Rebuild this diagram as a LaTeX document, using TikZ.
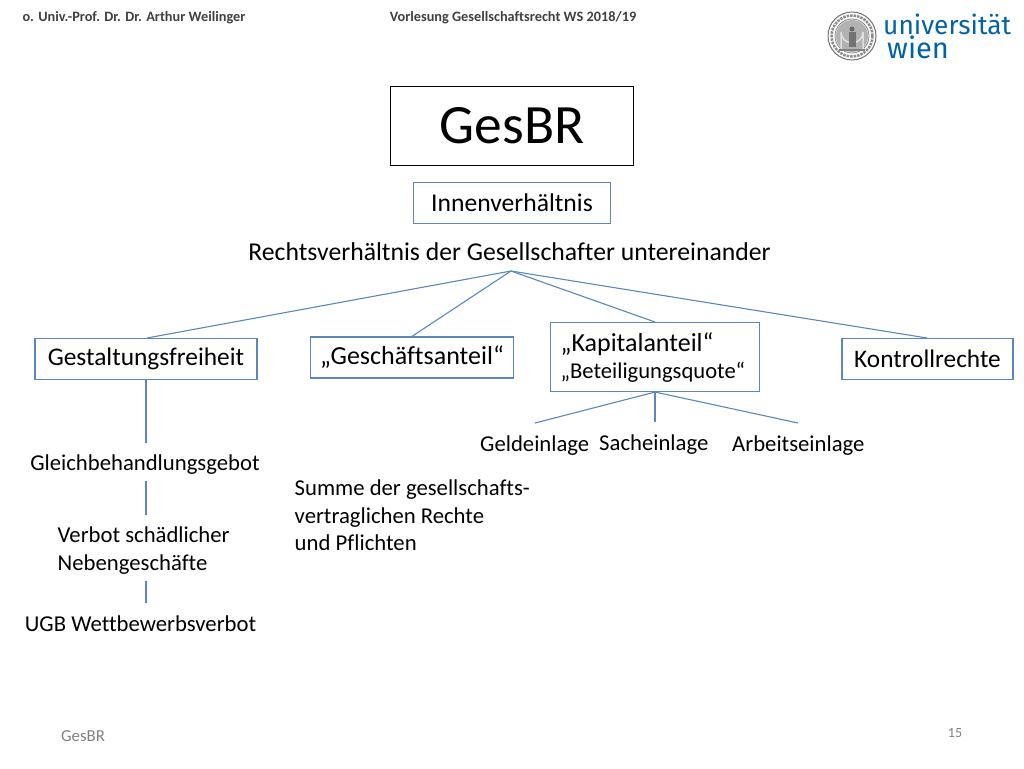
\documentclass[tikz,border=0pt]{standalone}
\usepackage{fontspec}
\setmainfont{Carlito}[Ligatures=NoCommon]
\newfontfamily\logofont{Fira Sans}
\definecolor{linkblue}{RGB}{90,135,190}
\definecolor{wienblue}{RGB}{0,99,166}
\tikzset{
    plain/.style={inner sep=0pt, align=left, font=\fontsize{#1}{#1}\selectfont},
    plain/.default=22.7,
    bluebox/.style={draw=linkblue, line width=1.1pt, inner sep=0pt},
    linkline/.style={draw=linkblue, line width=1.1pt},
}
\begin{document}
\begin{tikzpicture}[x=1pt,y=-1pt]
    \useasboundingbox (0,0) rectangle (1024,768);
    % header
    \node[inner sep=0pt,font=\fontsize{14.3}{15}\selectfont\bfseries,text=black!75] (author) at (134,18) {o. Univ.-Prof. Dr. Dr. Arthur Weilinger};
    \node[inner sep=0pt,font=\fontsize{14.3}{15}\selectfont\bfseries,text=black!75] (lecture) at (513,18) {Vorlesung Gesellschaftsrecht WS 2018/19};
    % logo
    \draw[black!55, line width=1pt] (852,36) circle (24);
    \draw[black!45, line width=2.5pt, densely dotted] (852,36) circle (20.5);
    \draw[black!50, line width=.8pt] (852,36) circle (17);
    \fill[black!30] (852,36) circle (16);
    \draw[black!12, line width=1.5pt] (841,50) -- (841,32) arc (180:0:11) -- (863,50);
    \fill[black!60] (852,29) circle (2.5);
    \fill[black!55] (848.5,32) rectangle (855.5,47);
    \fill[black!50] (839,49) rectangle (865,51);
    \node[anchor=north west,inner sep=0pt,align=left,text=wienblue,font=\logofont\fontsize{26.3}{20}\selectfont] (logo) at (883,14) {universität\\\hspace*{4pt}\fontsize{29}{20}\selectfont wien};
    % title boxes
    \node[draw=black, line width=1pt, minimum width=243pt, minimum height=79pt, inner sep=0pt, font=\fontsize{55.5}{56}\selectfont] (title) at (512,126) {GesBR};
    \node[bluebox, minimum width=197pt, minimum height=41pt, font=\fontsize{25.6}{26}\selectfont] (innen) at (512,203) {Innenverhältnis};
    \node[plain=25.7] (recht) at (509.5,252) {Rechtsverhältnis der Gesellschafter untereinander};
    \coordinate (hub) at (511,271);
    % second row
    \node[bluebox, minimum width=222pt, minimum height=41pt, font=\fontsize{25.4}{26}\selectfont] (gestalt) at (146,359) {Gestaltungsfreiheit};
    \node[bluebox, minimum width=203pt, minimum height=41pt, font=\fontsize{26}{26}\selectfont] (anteil) at (412,357.5) {„Geschäftsanteil“};
    \node[bluebox, minimum width=209pt, minimum height=69pt] (kapital) at (655,357) {};
    \node[plain=26, anchor=west] (kapname) at (560.5,344) {„Kapitalanteil“};
    \node[plain=22.6, anchor=west] (kapquote) at (560.5,372) {„Beteiligungsquote“};
    \node[bluebox, minimum width=171pt, minimum height=41pt, font=\fontsize{25.3}{26}\selectfont] (kontroll) at (927.5,359) {Kontrollrechte};
    \draw[linkline] (hub) -- (147,338);
    \draw[linkline] (hub) -- (411,337);
    \draw[linkline] (hub) -- (655,322);
    \draw[linkline] (hub) -- (927,338);
    % einlagen
    \node[plain, anchor=west] (geld) at (480,445.5) {Geldeinlage};
    \node[plain, anchor=west] (sach) at (599,445) {Sacheinlage};
    \node[plain, anchor=west] (arbeit) at (732,445.5) {Arbeitseinlage};
    \coordinate (kapfoot) at (kapital.south);
    \coordinate (geldtop) at (535,423);
    \coordinate (sachtop) at (655,422);
    \coordinate (arbeittop) at (798,423);
    \draw[linkline] (kapfoot) -- (geldtop);
    \draw[linkline] (kapfoot) -- (sachtop);
    \draw[linkline] (kapfoot) -- (arbeittop);
    % left column
    \node[plain] (gleich) at (145,464.5) {Gleichbehandlungsgebot};
    \node[plain, anchor=north west, font=\fontsize{22.7}{28}\selectfont] (verbot) at (57.5,527) {Verbot schädlicher\\Nebengeschäfte};
    \node[plain] (ugb) at (140.5,624) {UGB Wettbewerbsverbot};
    \coordinate (gleichtop) at (146,443);
    \coordinate (gleichfoot) at (146,481);
    \coordinate (verbottop) at (146,515);
    \coordinate (verbotfoot) at (146,581);
    \coordinate (ugbtop) at (146,603);
    \draw[linkline] (gestalt.south -| gleichtop) -- (gleichtop);
    \draw[linkline] (gleichfoot) -- (verbottop);
    \draw[linkline] (verbotfoot) -- (ugbtop);
    % note
    \node[plain, anchor=north west, font=\fontsize{22.7}{27.5}\selectfont] (summe) at (294.5,480) {Summe der gesellschafts-\\vertraglichen Rechte\\und Pflichten};
    % footer
    \node[plain=16.8, text=black!50] (foot) at (83,736) {GesBR};
    \node[plain=14, text=black!50] (page) at (955,733) {15};
\end{tikzpicture}
\end{document}
